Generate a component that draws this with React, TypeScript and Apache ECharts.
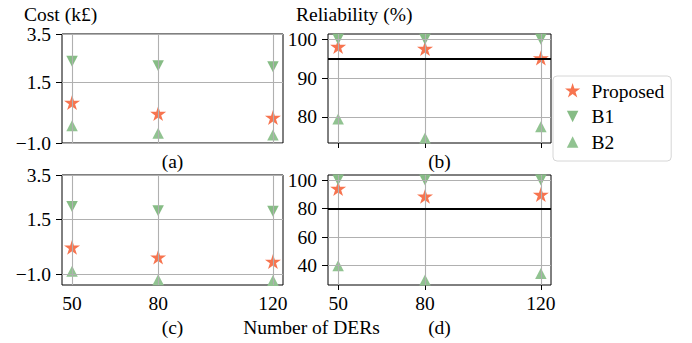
import React, { useEffect, useRef } from 'react';
import * as echarts from 'echarts';

// ---- data ----
const ders = [50, 80, 120];
const xTicks = [50, 80, 120];
const costTicks = [-1.0, 1.5, 3.5];
const relTicksB = [80, 90, 100];
const relTicksD = [40, 60, 80, 100];

const costA_proposed = [0.64, 0.18, 0.02];
const costA_b1 = [2.38, 2.19, 2.15];
const costA_b2 = [-0.29, -0.6, -0.67];

const relB_proposed = [97.9, 97.4, 94.95];
const relB_b1 = [100, 100, 100];
const relB_b2 = [79.5, 74.6, 77.5];

const costC_proposed = [0.18, -0.27, -0.47];
const costC_b1 = [2.07, 1.88, 1.85];
const costC_b2 = [-0.88, -1.26, -1.3];

const relD_proposed = [93.5, 88.0, 89.3];
const relD_b1 = [100, 100, 100];
const relD_b2 = [40.0, 30.0, 34.5];

const thresholdB = 95;
const thresholdD = 80;

const seriesNames = ['Proposed', 'B1', 'B2'];
const panelLabels = ['(a)', '(b)', '(c)', '(d)'];

const FONT_FAMILY = 'Liberation Serif';
const FS = 19.5;

const colors = { Proposed: '#F7744F', B1: '#86BC85', B2: '#91C391' };

const starPath = 'path://M0,-100 L22.45,-30.9 L95.11,-30.9 L36.33,11.8 L58.78,80.9 L0,38.2 L-58.78,80.9 L-36.33,11.8 L-95.11,-30.9 L-22.45,-30.9 Z M0,100';
const downPath = 'path://M-100,-100 L100,-100 L0,100 Z';
const upPath = 'path://M0,-100 L100,100 L-100,100 Z';
const starLegend = 'path://M0,-100 L22.45,-30.9 L95.11,-30.9 L36.33,11.8 L58.78,80.9 L0,38.2 L-58.78,80.9 L-36.33,11.8 L-95.11,-30.9 L-22.45,-30.9 Z M0,100';
const downLegend = 'path://M0,-139 M0,139 M-100,-100 L100,-100 L0,100 Z';
const upLegend = 'path://M0,-139 M0,139 M0,-100 L100,100 L-100,100 Z';

const fmtCost = (v: number) => (v < 0 ? '\u2212' + Math.abs(v).toFixed(1) : v.toFixed(1));
const fmtInt = (v: number) => String(Math.round(v));

export default function App() {
  const ref = useRef<HTMLDivElement>(null);
  useEffect(() => {
    if (!ref.current) return;
    const chart = echarts.init(ref.current, undefined, { renderer: 'svg' });

    const grids = [
      { left: 62, top: 34, width: 221, height: 109 },
      { left: 328, top: 34, width: 223, height: 109 },
      { left: 62, top: 175, width: 221, height: 110 },
      { left: 328, top: 175, width: 223, height: 110 },
    ];
    const yDefs = [
      { min: -1.0, max: 3.5, ticks: costTicks, fmt: fmtCost },
      { min: 73.3, max: 101.35, ticks: relTicksB, fmt: fmtInt },
      { min: -1.5, max: 3.5, ticks: costTicks, fmt: fmtCost },
      { min: 26.5, max: 103.5, ticks: relTicksD, fmt: fmtInt },
    ];
    const panelData = [
      [costA_proposed, costA_b1, costA_b2],
      [relB_proposed, relB_b1, relB_b2],
      [costC_proposed, costC_b1, costC_b2],
      [relD_proposed, relD_b1, relD_b2],
    ];
    const thresholds: (number | null)[] = [null, thresholdB, null, thresholdD];
    const symbols = [starPath, downPath, upPath];
    const sizes = [[16, 16.5], [11.5, 11], [11.5, 11]];

    const textStyle = { fontFamily: FONT_FAMILY, fontSize: FS, color: '#000' };

    const xAxis = grids.map((_, i) => ({
      type: 'value',
      gridIndex: i,
      min: 46.5,
      max: 123.5,
      axisLine: { show: false },
      axisTick: { show: true, length: 5, customValues: xTicks, lineStyle: { color: '#000', width: 1 } },
      axisLabel: {
        show: i >= 2,
        customValues: xTicks,
        margin: 8,
        ...textStyle,
      },
      splitLine: { show: false },
    }));
    const yAxis = grids.map((_, i) => ({
      type: 'value',
      gridIndex: i,
      min: yDefs[i].min,
      max: yDefs[i].max,
      axisLine: { show: false },
      axisTick: { show: true, length: 6, customValues: yDefs[i].ticks, lineStyle: { color: '#000', width: 1 } },
      axisLabel: {
        show: true,
        customValues: yDefs[i].ticks,
        margin: 11,
        formatter: (v: number) => yDefs[i].fmt(v),
        ...textStyle,
      },
      splitLine: { show: false },
    }));

    const series: any[] = [];
    grids.forEach((_, i) => {
      series.push({
        type: 'scatter',
        name: 'grid' + i,
        xAxisIndex: i,
        yAxisIndex: i,
        data: [],
        silent: true,
        z: 1,
        markLine: {
          silent: true,
          symbol: 'none',
          label: { show: false },
          animation: false,
          lineStyle: { color: '#b0b0b0', width: 1.1, type: 'solid' },
          data: [
            ...xTicks.map((v) => ({ xAxis: v })),
            ...yDefs[i].ticks.map((v) => ({ yAxis: v })),
          ],
        },
      });
      seriesNames.forEach((name, k) => {
        series.push({
          type: 'scatter',
          name,
          xAxisIndex: i,
          yAxisIndex: i,
          symbol: symbols[k],
          symbolSize: sizes[k],
          itemStyle: { color: (colors as any)[name], opacity: 1 },
          z: 3,
          data: ders.map((x, j) => [x, panelData[i][k][j]]),
        });
      });
      const th = thresholds[i];
      if (th !== null) {
        series.push({
          type: 'scatter',
          name: 'threshold' + i,
          xAxisIndex: i,
          yAxisIndex: i,
          data: [],
          silent: true,
          z: 4,
          markLine: {
            silent: true,
            symbol: 'none',
            label: { show: false },
            animation: false,
            lineStyle: { color: '#000', width: 2, type: 'solid' },
            data: [{ yAxis: th }],
          },
        });
      }
    });

    const font = `${FS}px ${FONT_FAMILY}`;
    const txt = (text: string, x: number, y: number, align: string) => ({
      type: 'text',
      x,
      y,
      silent: true,
      style: { text, fill: '#000', font, textAlign: align, textVerticalAlign: 'middle', align, verticalAlign: 'middle' },
    });

    chart.setOption({
      animation: false,
      backgroundColor: '#fff',
      grid: grids.map((g) => ({ ...g, show: true, borderColor: '#000', borderWidth: 1, backgroundColor: 'transparent', containLabel: false })),
      xAxis,
      yAxis,
      legend: {
        data: [
          { name: 'Proposed', icon: starLegend },
          { name: 'B1', icon: downLegend },
          { name: 'B2', icon: upLegend },
        ],
        orient: 'vertical',
        left: 553,
        top: 76,
        itemWidth: 28,
        itemHeight: 16,
        itemGap: 5.5,
        padding: [5, 7, 9, 12],
        backgroundColor: '#fff',
        borderColor: '#d6d6d6',
        borderWidth: 1,
        borderRadius: 4,
        symbolKeepAspect: true,
        selectedMode: false,
        textStyle: { ...textStyle },
      },
      graphic: [
        txt('Cost (k\u00a3)', 24, 14, 'left'),
        txt('Reliability (%)', 296, 14, 'left'),
        txt(panelLabels[0], 172.5, 161, 'center'),
        txt(panelLabels[1], 439.5, 161, 'center'),
        txt(panelLabels[2], 172.5, 327, 'center'),
        txt(panelLabels[3], 439.5, 327, 'center'),
        txt('Number of DERs', 311.5, 327, 'center'),
      ],
      series,
    });
    return () => chart.dispose();
  }, []);
  return <div ref={ref} style={{ position: 'fixed', left: 0, top: 0, width: 692, height: 343 }} />;
}
